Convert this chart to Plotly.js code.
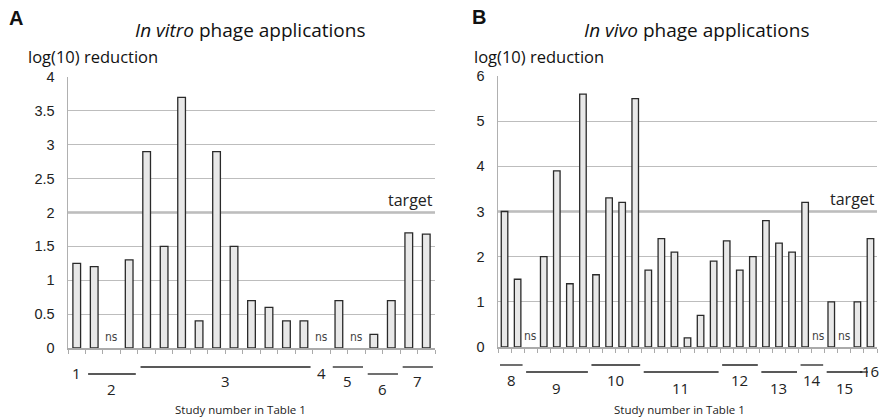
<!DOCTYPE html>
<html>
<head>
<meta charset="utf-8">
<script src="https://cdn.plot.ly/plotly-3.0.1.min.js"></script>
<style>html,body{margin:0;padding:0;background:#fff;}#chart{width:881px;height:420px;}</style>
</head>
<body>
<div id="chart"></div>
<script>
// ---------- DATA ----------
// Panel A: in vitro (null = "ns", not significant)
const valuesA = [1.25, 1.2, null, 1.3, 2.9, 1.5, 3.7, 0.4, 2.9, 1.5, 0.7, 0.6, 0.4, 0.4, null, 0.7, null, 0.2, 0.7, 1.7, 1.68];
const studyA  = ['1','2','2','2','3','3','3','3','3','3','3','3','3','3','4','5','5','6','6','7','7'];
// Panel B: in vivo
const valuesB = [3.0, 1.5, null, 2.0, 3.9, 1.4, 5.6, 1.6, 3.3, 3.2, 5.5, 1.7, 2.4, 2.1, 0.2, 0.7, 1.9, 2.35, 1.7, 2.0, 2.8, 2.3, 2.1, 3.2, null, 1.0, null, 1.0, 2.4];
const studyB  = ['8','8','9','9','9','9','9','10','10','10','10','11','11','11','11','11','11','12','12','12','13','13','13','14','14','15','15','15','16'];
const targetA = 2;
const targetB = 3;
const yTicksA = [0, 0.5, 1, 1.5, 2, 2.5, 3, 3.5, 4];
const yTickTextA = ['0', '0.5', '1', '1.5', '2', '2.5', '3', '3.5', '4'];
const yTicksB = [0, 1, 2, 3, 4, 5, 6];
const yTickTextB = ['0', '1', '2', '3', '4', '5', '6'];
const titleA = '<i>In vitro</i> phage applications';
const titleB = '<i>In vivo</i> phage applications';
const yTitle = 'log(10) reduction';
const xTitle = 'Study number in Table 1';
const nsLabel = 'ns';
const targetLabel = 'target';

// ---------- LAYOUT HELPERS ----------
const W = 881, H = 420;
const px = x => x / W;
const py = y => 1 - y / H;
const TXT = 'Open Sans, Noto Sans, sans-serif';
const NUM = 'Liberation Sans, Arial, sans-serif';

function idx(arr) { return arr.map((_, i) => i + 1); }

function barTrace(vals, xa, ya, w) {
  return {
    type: 'bar', x: idx(vals), y: vals,
    xaxis: xa, yaxis: ya, width: w,
    marker: {color: '#e8e8e8', line: {color: '#2a2a2a', width: 1.3}},
    hoverinfo: 'x+y', showlegend: false
  };
}

function groups(study) {
  const g = [];
  study.forEach((s, i) => {
    if (g.length && g[g.length - 1].s === s) g[g.length - 1].last = i + 1;
    else g.push({s: s, first: i + 1, last: i + 1});
  });
  return g;
}

const shapes = [];
const annotations = [];
const GFONT = {family: TXT, size: 15, color: '#222'};

function addGroups(study, xref, rows, singleDash) {
  groups(study).forEach((g, k) => {
    const high = (k % 2 === 0);
    if (g.first === g.last) {
      if (singleDash) {
        shapes.push({type: 'line', xref: xref, yref: 'paper', x0: g.first - 0.8, x1: g.first - 0.2,
          y0: py(rows.single), y1: py(rows.single), line: {color: '#222', width: 1.3}});
        annotations.push({xref: 'paper', yref: 'paper', x: 1, y: py(rows.single - 1), xanchor: 'right', yanchor: 'middle',
          text: g.s, showarrow: false, font: GFONT});
      } else {
        annotations.push({xref: xref, yref: 'paper', x: g.first, y: py(rows.single), xanchor: 'center', yanchor: 'middle',
          text: g.s, showarrow: false, font: GFONT});
      }
      return;
    }
    const ly = high ? rows.hiLine : rows.loLine;
    const ty = high ? rows.hiText : rows.loText;
    shapes.push({type: 'line', xref: xref, yref: 'paper', x0: g.first - 0.5 + 0.15, x1: g.last + 0.5 - 0.12,
      y0: py(ly), y1: py(ly), line: {color: '#222', width: 1.3}});
    annotations.push({xref: xref, yref: 'paper', x: (g.first + g.last) / 2, y: py(ty), xanchor: 'center', yanchor: 'middle',
      text: g.s, showarrow: false, font: GFONT});
  });
}

function addNs(vals, xref, yref) {
  vals.forEach((v, i) => {
    if (v === null) annotations.push({xref: xref, yref: yref, x: i + 1, y: 0, yanchor: 'bottom', xanchor: 'center', yshift: 2,
      text: nsLabel, showarrow: false, font: {family: 'Liberation Sans Narrow, DejaVu Sans Condensed, sans-serif', size: 12, color: '#444'}});
  });
}

addGroups(studyA, 'x', {hiLine: 367, loLine: 374, hiText: 381, loText: 389, single: 373}, false);
addGroups(studyB, 'x2', {hiLine: 365, loLine: 372, hiText: 380, loText: 388, single: 372}, true);
addNs(valuesA, 'x', 'y');
addNs(valuesB, 'x2', 'y2');

// target lines
shapes.push({type: 'line', xref: 'x domain', yref: 'y', x0: 0, x1: 1, y0: targetA, y1: targetA, line: {color: '#959595', width: 2.2}, layer: 'below'});
shapes.push({type: 'line', xref: 'x2 domain', yref: 'y2', x0: 0, x1: 1, y0: targetB, y1: targetB, line: {color: '#959595', width: 2.2}, layer: 'below'});
annotations.push({xref: 'x domain', yref: 'y', x: 1, y: targetA, xanchor: 'right', yanchor: 'bottom', yshift: 0, text: targetLabel,
  showarrow: false, font: {family: TXT, size: 16, color: '#222'}});
annotations.push({xref: 'x2 domain', yref: 'y2', x: 1, y: targetB, xanchor: 'right', yanchor: 'bottom', yshift: 0, text: targetLabel,
  showarrow: false, font: {family: TXT, size: 16, color: '#222'}});

// titles and labels
annotations.push({xref: 'paper', yref: 'paper', x: px(7), y: py(18), xanchor: 'left', yanchor: 'middle', text: '<b>A</b>', showarrow: false, font: {family: NUM, size: 20, color: '#111'}});
annotations.push({xref: 'paper', yref: 'paper', x: px(470), y: py(17), xanchor: 'left', yanchor: 'middle', text: '<b>B</b>', showarrow: false, font: {family: NUM, size: 20, color: '#111'}});
annotations.push({xref: 'paper', yref: 'paper', x: px(250), y: py(30), xanchor: 'center', yanchor: 'middle', text: titleA, showarrow: false, font: {family: TXT, size: 19, color: '#111'}});
annotations.push({xref: 'paper', yref: 'paper', x: px(697), y: py(30), xanchor: 'center', yanchor: 'middle', text: titleB, showarrow: false, font: {family: TXT, size: 19, color: '#111'}});
annotations.push({xref: 'paper', yref: 'paper', x: px(26), y: py(57), xanchor: 'left', yanchor: 'middle', text: yTitle, showarrow: false, font: {family: TXT, size: 16.5, color: '#111'}});
annotations.push({xref: 'paper', yref: 'paper', x: px(472), y: py(57), xanchor: 'left', yanchor: 'middle', text: yTitle, showarrow: false, font: {family: TXT, size: 16.5, color: '#111'}});
annotations.push({xref: 'paper', yref: 'paper', x: px(240), y: py(409), xanchor: 'center', yanchor: 'middle', text: xTitle, showarrow: false, font: {family: TXT, size: 11.5, color: '#222'}});
annotations.push({xref: 'paper', yref: 'paper', x: px(679), y: py(409), xanchor: 'center', yanchor: 'middle', text: xTitle, showarrow: false, font: {family: TXT, size: 11.5, color: '#222'}});

function xAxis(n, left, right) {
  return {
    domain: [px(left), px(right)], range: [0.5, n + 0.5], fixedrange: true,
    tickvals: Array.from({length: n + 1}, (_, i) => i + 0.5), showticklabels: false,
    ticks: 'outside', ticklen: 4, tickwidth: 1, tickcolor: '#aaaaaa',
    showline: true, linecolor: '#aaaaaa', linewidth: 1.5, showgrid: false, zeroline: false
  };
}
function yAxis(ticks, text, top, bottom, anchor) {
  return {
    domain: [py(bottom), py(top)], range: [0, ticks[ticks.length - 1]], anchor: anchor, fixedrange: true,
    tickvals: ticks, ticktext: text, tickfont: {family: NUM, size: 14.5, color: '#222'},
    ticks: '', ticklabelstandoff: 9, showline: true, linecolor: '#b0b0b0', linewidth: 1.5,
    showgrid: true, gridcolor: '#bdbdbd', gridwidth: 1.2, zeroline: false
  };
}

const layout = {
  width: W, height: H, margin: {l: 0, r: 0, t: 0, b: 0},
  paper_bgcolor: '#fff', plot_bgcolor: '#fff', showlegend: false,
  xaxis: Object.assign(xAxis(valuesA.length, 68, 435), {anchor: 'y'}),
  yaxis: yAxis(yTicksA, yTickTextA, 77, 348, 'x'),
  xaxis2: Object.assign(xAxis(valuesB.length, 498, 877), {anchor: 'y2'}),
  yaxis2: yAxis(yTicksB, yTickTextB, 76, 347, 'x2'),
  shapes: shapes, annotations: annotations
};

Plotly.newPlot('chart', [barTrace(valuesA, 'x', 'y', 0.44), barTrace(valuesB, 'x2', 'y2', 0.5)], layout, {staticPlot: true, displayModeBar: false});
</script>
</body>
</html>
